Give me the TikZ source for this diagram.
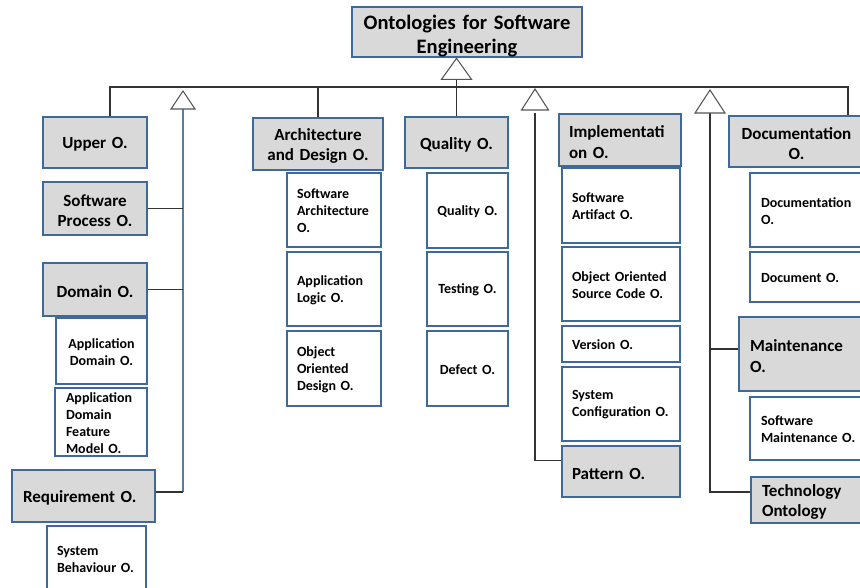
\documentclass[tikz,border=0pt]{standalone}
\usepackage{fontspec}
\setmainfont{Carlito}
\usetikzlibrary{calc}

\definecolor{boxblue}{HTML}{3E6A9B}
\definecolor{boxgrey}{HTML}{D9D9D9}
\definecolor{linegrey}{HTML}{333333}
\definecolor{trunkblue}{HTML}{5A7CA3}
\definecolor{trigrey}{HTML}{555555}

% #1 padding (px), #2 kind (grey/white/title), #3 alignment, #4 name,
% #5..#8 corners x1,y1,x2,y2 (px), #9 text
\newcommand\mkbox[9][10.5]{%
  \pgfmathsetmacro\mkw{(#7-#5)*0.75}%
  \pgfmathsetmacro\mkh{(#8-#6)*0.75}%
  \pgfmathsetmacro\mkt{\mkw-2*#1*0.75}%
  \node[#2box, minimum width=\mkw pt, minimum height=\mkh pt]
    (#4) at ({(#5+#7)/2},{(#6+#8)/2}) {};%
  \node[#2text, align=#3, text width=\mkt pt] (#4-t) at (#4.center) {#9};%
}

\tikzset{
  basebox/.style={draw=boxblue, line width=2pt, inner sep=0pt},
  greybox/.style={basebox, fill=boxgrey},
  whitebox/.style={basebox, fill=white},
  titlebox/.style={basebox, fill=boxgrey},
  greytext/.style={inner sep=0pt, yshift=-1.5pt, font=\bfseries\fontsize{12.75}{15.5}\selectfont},
  whitetext/.style={inner sep=0pt, yshift=-0.75pt, font=\bfseries\fontsize{10.5}{12.75}\selectfont},
  titletext/.style={inner sep=0pt, yshift=-3pt, font=\bfseries\fontsize{15.4}{18.6}\selectfont},
  conn/.style={draw=linegrey, line width=1.1pt},
  trunk/.style={draw=trunkblue, line width=1.1pt},
  isa/.style={draw=trigrey, line width=0.8pt, fill=white, line join=miter},
}

\begin{document}
\begin{tikzpicture}[x=0.75pt, y=-0.75pt]
\useasboundingbox (0,0) rectangle (860,587);
\clip (0,0) rectangle (860,587);
\fill[white] (0,0) rectangle (860,587);

% root
\mkbox[3]{title}{center}{title}{352}{7}{582}{57}{Ontologies for Software\\Engineering}

% left column
\mkbox[3]{grey}{center}{upper}{43}{117}{147}{168}{Upper O.}
\mkbox[3]{grey}{center}{swp}{43}{182}{147}{235}{Software\\Process O.}
\mkbox[3]{grey}{center}{domain}{43}{263}{147}{316}{Domain O.}
\mkbox[3]{white}{center}{appdom}{56}{318}{147}{384}{Application\\Domain O.}
\mkbox[11]{white}{left}{adfm}{55}{388}{147}{456}{Application\\Domain\\Feature\\Model O.}
\mkbox[11]{grey}{left}{req}{12}{470}{155}{522}{Requirement O.}
\mkbox[10]{white}{left}{sysb}{47}{526}{146}{590}{System\\Behaviour O.}

% architecture column
\mkbox[3]{grey}{center}{arch}{253}{118}{383}{170}{Architecture\\and Design O.}
\mkbox[10]{white}{left}{sarch}{287}{173}{381}{247}{Software\\Architecture\\O.}
\mkbox[10]{white}{left}{alog}{287}{252}{381}{326}{Application\\Logic O.}
\mkbox[10]{white}{left}{ood}{287}{331}{381}{406}{Object\\Oriented\\Design O.}

% quality column
\mkbox[3]{grey}{center}{qual}{405}{117}{508}{168}{Quality O.}
\mkbox[3]{white}{center}{qualc}{427}{173}{508}{248}{Quality O.}
\mkbox[3]{white}{center}{test}{427}{252}{508}{326}{Testing O.}
\mkbox[3]{white}{center}{defect}{427}{331}{508}{406}{Defect O.}

% implementation column
\mkbox[10]{grey}{left}{impl}{559}{114}{681}{166}{Implementati\\on O.}
\mkbox[10]{white}{left}{sart}{562}{168}{680}{243}{Software\\Artifact O.}
\mkbox[10]{white}{left}{oosc}{562}{247}{680}{321}{Object Oriented\\Source Code O.}
\mkbox[10]{white}{left}{vers}{562}{326}{680}{362}{Version O.}
\mkbox[10]{white}{left}{sysc}{562}{367}{680}{441}{System\\Configuration O.}
\mkbox[10]{grey}{left}{pattern}{562}{446}{680}{497}{Pattern O.}

% documentation column
\mkbox[3]{grey}{center}{docO}{729}{116}{864}{167}{Documentation\\O.}
\mkbox[11]{white}{left}{docc}{750}{173}{870}{247}{Documentation\\O.}
\mkbox[11]{white}{left}{docu}{750}{252}{870}{302}{Document O.}
\mkbox[11]{grey}{left}{maint}{739}{317}{870}{391}{Maintenance\\O.}
\mkbox[11]{white}{left}{smaint}{750}{397}{870}{460}{Software\\Maintenance O.}
\mkbox[11]{grey}{left}{tech}{751}{477}{870}{523}{Technology\\Ontology}

% main bus under the root
\coordinate (busL) at (110,87);
\coordinate (busR) at (848,87);
\draw[conn] (upper.north -| busL) -- (busL) -- (busR) -- (busR |- docO.north);
\draw[conn] (arch.north) -- (arch.north |- busL);

% root generalisation
\coordinate (t0) at (qual.north |- title.south);
\draw[conn] ($(t0)+(0,21)$) -- (qual.north);
\draw[isa] (t0) -- ++(-15,21) -- ++(30,0) -- cycle;

% left generalisation
\coordinate (t1) at (183,91);
\draw[trunk] ($(t1)+(0,18)$) -- ([yshift=3pt]req.east -| t1);
\draw[conn] (swp.east) -- (swp.east -| t1);
\draw[conn] (domain.east) -- (domain.east -| t1);
\draw[conn] ([yshift=3pt]req.east) -- ([yshift=3pt]req.east -| t1);
\draw[isa] (t1) -- ++(-12,18) -- ++(24,0) -- cycle;

% implementation generalisation
\coordinate (t2) at (535,89);
\draw[conn] ($(t2)+(0,24)$) -- ([yshift=8.25pt]pattern.west -| t2) -- ([yshift=8.25pt]pattern.west);
\draw[isa] (t2) -- ++(-13.5,21) -- ++(27,0) -- cycle;

% documentation generalisation
\coordinate (t3) at (710,90);
\draw[conn] ($(t3)+(0,23)$) -- ([yshift=6pt]tech.west -| t3) -- ([yshift=6pt]tech.west);
\draw[conn] ([yshift=3.75pt]maint.west -| t3) -- ([yshift=3.75pt]maint.west);
\draw[isa] (t3) -- ++(-15,23) -- ++(30,0) -- cycle;
\end{tikzpicture}
\end{document}
